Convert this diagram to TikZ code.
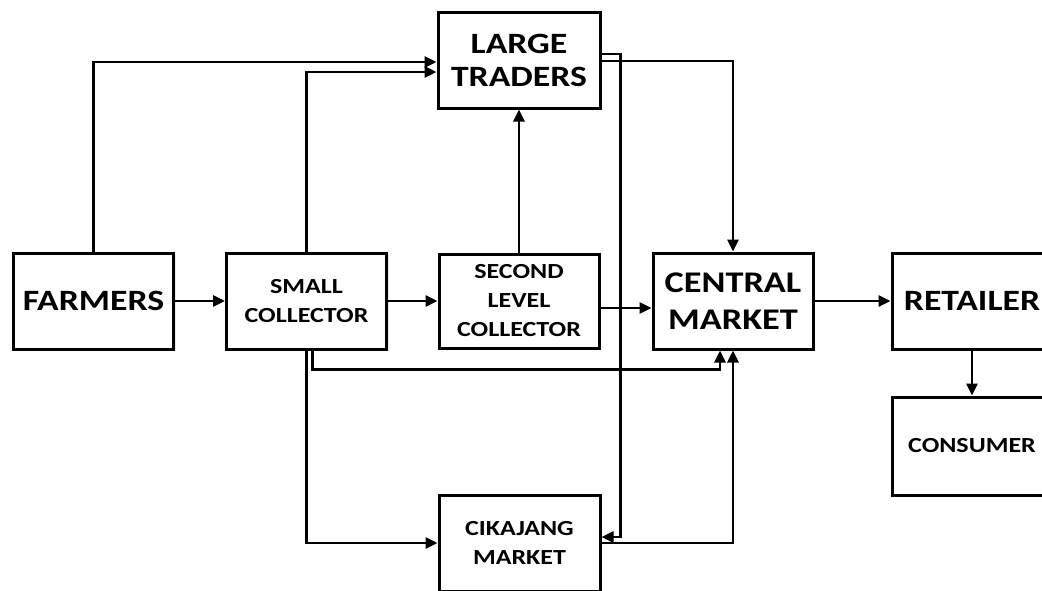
\documentclass[tikz,border=0pt]{standalone}
\usepackage{fontspec}
\setmainfont{Carlito}[FakeStretch=1.21]
\usetikzlibrary{arrows.meta,shadows}

\begin{document}
\begin{tikzpicture}[x=1pt,y=-1pt,
  box/.style={draw,line width=3pt,fill=white,align=center,inner sep=0pt,
    minimum width=160pt,minimum height=96pt,font=\bfseries,
    drop shadow={opacity=0.18,shadow xshift=2pt,shadow yshift=-2pt}},
  big/.style={font=\bfseries\fontsize{29.5}{35}\selectfont},
  small/.style={font=\bfseries\fontsize{21.5}{29}\selectfont},
  arr/.style={line width=2.8pt,-{Triangle[length=12pt,width=11pt]}}]
\useasboundingbox (0,0) rectangle (1042,590);
%\draw[step=50,gray,very thin] (0,0) grid (1042,590);
\node[box,big] (farmers) at (93.5,301) {FARMERS};
\node[box,small] (smallcol) at (306.5,301) {SMALL\\COLLECTOR};
\node[box,small,minimum height=94pt] (second) at (519,301) {SECOND\\LEVEL\\COLLECTOR};
\node[box,big,minimum width=162pt,font=\bfseries\fontsize{29.5}{33}\selectfont] (large) at (519,60) {LARGE\\TRADERS};
\node[box,big,font=\bfseries\fontsize{30}{37}\selectfont] (central) at (733,301) {CENTRAL\\MARKET};
\node[box,big] (retailer) at (972,301) {RETAILER};
\node[box,small,minimum height=98pt] (consumer) at (972,446) {CONSUMER};
\node[box,small,minimum width=161pt] (cikajang) at (519.5,543) {CIKAJANG\\MARKET};

\draw[arr] (farmers) -- (smallcol);
\draw[arr] (smallcol) -- (second);
\draw[arr] (central) -- (retailer);
\draw[arr] (retailer) -- (consumer);
\draw[arr] (second) -- (large);
\draw[arr] ([yshift=-7pt]second.east) -- ([yshift=-7pt]central.west);
% routes up to the large traders
\draw[arr] (farmers.north) |- ([yshift=-2pt]large.west);
\draw[arr] (smallcol.north) |- ([yshift=-12pt]large.west);
% large traders down to both markets
\draw[arr] ([yshift=-1pt]large.east) -| (central.north);
\draw[arr] ([yshift=6pt]large.east) -- ++(19,0) |- ([yshift=6pt]cikajang.east);
% routes below the collectors
\draw[arr] ([xshift=6pt]smallcol.south) -- ++(0,19) -| ([xshift=-13pt]central.south);
\draw[arr] (smallcol.south) |- (cikajang.west);
\draw[arr] (cikajang.east) -| (central.south);
\end{tikzpicture}
\end{document}
